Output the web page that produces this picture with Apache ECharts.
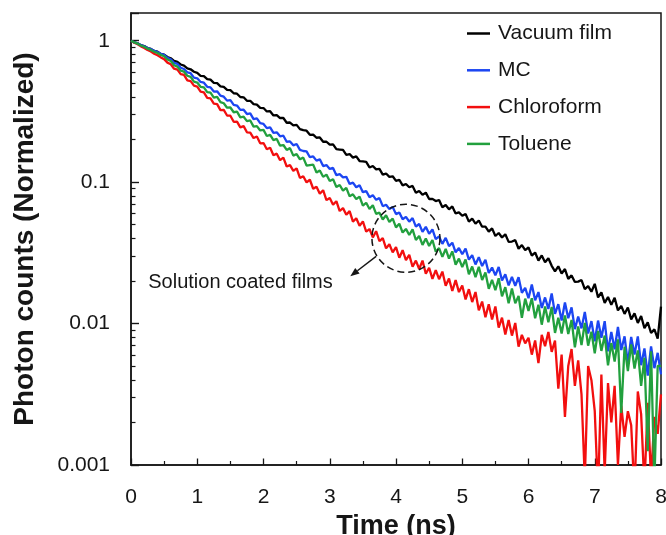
<!DOCTYPE html>
<html>
<head>
<meta charset="utf-8">
<script src="https://cdn.jsdelivr.net/npm/echarts@6/dist/echarts.min.js"></script>
<style>
  html, body { margin: 0; padding: 0; background: #fff; }
  #chart { width: 666px; height: 535px; }
</style>
</head>
<body>
<div id="chart"></div>
<script>
// time grid: one sample every 0.05 ns, 0 .. 8 ns
const step = 0.05;
const times = [];
for (let i = 0; i <= 160; i++) times.push(+(i * step).toFixed(2));

const seriesNames = ['Vacuum film', 'MC', 'Chloroform', 'Toluene'];
const seriesColors = ['#000000', '#1c46f2', '#f20f0f', '#22a03e'];

// normalized photon counts
const vacuumFilm = [1, .973, .959, .929, .916, .887, .875, .847, .836, .807, .798,
  .767, .752, .721, .708, .679, .667, .638, .628, .603, .592,
  .565, .562, .535, .530, .504, .501, .476, .472, .449, .447,
  .425, .422, .400, .398, .376, .376, .356, .353, .335, .334,
  .316, .317, .296, .298, .284, .284, .263, .264, .252, .254,
  .237, .233, .231, .216, .217, .206, .207, .193, .193, .184,
  .185, .171, .170, .169, .156, .158, .149, .152, .141, .140,
  .139, .127, .130, .123, .124, .113, .115, .109, .110, .102,
  .104, .0948, .0971, .0920, .0940, .0841, .0867, .0813, .0843, .0760,
  .0762, .0735, .0748, .0665, .0689, .0643, .0673, .0601, .0611, .0578,
  .0596, .0526, .0552, .0508, .0536, .0484, .0485, .0447, .0471, .0416,
  .0437, .0406, .0428, .0378, .0380, .0389, .0338, .0359, .0330, .0345,
  .0302, .0318, .0279, .0303, .0271, .0290, .0256, .0234, .0254, .0226,
  .0243, .0207, .0219, .0197, .0198, .0203, .0175, .0184, .0168, .0191,
  .0153, .0166, .0140, .0154, .0136, .0152, .0124, .0133, .0117, .0130,
  .0107, .0118, .0101, .0113, .00928, .0102, .00858, .00910, .00783, .0132];

const mc = [1, .975, .957, .931, .912, .887, .873, .847, .832, .809, .794,
  .757, .740, .698, .686, .644, .631, .598, .589, .548, .542,
  .511, .505, .472, .468, .437, .439, .409, .402, .377, .380,
  .352, .348, .324, .325, .303, .306, .279, .282, .261, .258,
  .241, .244, .223, .225, .211, .213, .193, .194, .182, .186,
  .169, .166, .165, .150, .152, .142, .145, .130, .132, .124,
  .126, .112, .114, .108, .109, .0971, .0993, .0920, .0951, .0849,
  .0865, .0783, .0809, .0750, .0771, .0676, .0692, .0644, .0668, .0594,
  .0611, .0547, .0568, .0525, .0557, .0485, .0506, .0445, .0483, .0431,
  .0463, .0396, .0413, .0366, .0404, .0353, .0373, .0319, .0342, .0309,
  .0339, .0283, .0305, .0262, .0295, .0255, .0283, .0228, .0249, .0219,
  .0251, .0202, .0223, .0186, .0214, .0185, .0213, .0165, .0179, .0151,
  .0189, .0146, .0167, .0129, .0153, .0127, .0163, .0117, .0137, .0105,
  .0141, .0109, .0130, .00914, .0112, .00925, .0121, .00851, .0104, .00750,
  .0105, .00793, .0104, .00637, .00873, .00658, .00946, .00650, .00813, .00521,
  .00804, .00605, .00811, .00508, .00667, .00428, .00689, .00484, .00621, .00437];

const chloroform = [1, .968, .944, .912, .889, .859, .838, .809, .789, .762, .741,
  .700, .682, .634, .625, .581, .573, .525, .518, .481, .474,
  .436, .431, .394, .391, .359, .356, .323, .324, .296, .295,
  .267, .268, .244, .249, .225, .224, .205, .210, .188, .189,
  .171, .175, .155, .159, .143, .149, .129, .132, .120, .125,
  .107, .110, .0996, .104, .0898, .0929, .0828, .0877, .0746, .0773,
  .0693, .0733, .0625, .0655, .0588, .0624, .0525, .0555, .0491, .0528,
  .0447, .0466, .0407, .0450, .0382, .0402, .0340, .0364, .0319, .0347,
  .0292, .0330, .0281, .0306, .0252, .0279, .0243, .0279, .0225, .0248,
  .0207, .0239, .0206, .0233, .0185, .0208, .0170, .0203, .0167, .0186,
  .0148, .0175, .0142, .0167, .0124, .0143, .0111, .0137, .0107, .0132,
  .00936, .0110, .00837, .0106, .00822, .0101, .00687, .00832, .00724, .00794,
  .00603, .00759, .00525, .00832, .00692, .00871, .00631, .00759, .00347, .00603,
  .00219, .00501, .00661, .00363, .00550, .00316, .00079, .00501, .00398, .00240,
  .00063, .00437, .00089, .00380, .00200, .00363, .00100, .00263, .00158, .00240,
  .00191, .00063, .00331, .00229, .00071, .00275, .00079, .00219, .00166, .00316];

const toluene = [1, .973, .953, .925, .906, .879, .861, .836, .818, .794, .776,
  .736, .718, .671, .656, .614, .604, .565, .555, .514, .506,
  .472, .468, .433, .429, .396, .400, .368, .361, .336, .337,
  .312, .315, .287, .290, .270, .273, .247, .249, .232, .234,
  .212, .216, .198, .202, .181, .183, .169, .174, .154, .158,
  .145, .149, .131, .132, .133, .117, .121, .109, .113, .102,
  .105, .0925, .0955, .0871, .0912, .0794, .0820, .0759, .0791, .0682,
  .0715, .0646, .0686, .0597, .0608, .0545, .0583, .0522, .0552, .0479,
  .0508, .0440, .0467, .0423, .0463, .0390, .0416, .0360, .0400, .0354,
  .0390, .0322, .0342, .0296, .0337, .0288, .0324, .0261, .0288, .0251,
  .0284, .0223, .0253, .0213, .0252, .0203, .0230, .0176, .0204, .0172,
  .0209, .0156, .0181, .0139, .0177, .0139, .0157, .0110, .0150, .0123,
  .0151, .0109, .0136, .00982, .0132, .0102, .0131, .00859, .0110, .00851,
  .0114, .00843, .0106, .00679, .00955, .00705, .0101, .00698, .00875, .00617,
  .00887, .00641, .00822, .00506, .00728, .00538, .00774, .00233, .00686, .00462,
  .00713, .00481, .00646, .00362, .00572, .00125, .00637, .00075, .00502, .00501];

const xTicks = [0, 1, 2, 3, 4, 5, 6, 7, 8];
const yMin = 0.001, yMax = 1.57;
const majorTicks = [0.001, 0.01, 0.1, 1];
const minorMultipliers = [2, 3, 4, 5, 6, 7, 8, 9];

// annotation (data coordinates)
const circleCenter = [4.15, 0.0401];
const arrowFrom = [3.70, 0.0299];
const arrowTo = [3.31, 0.0216];
const noteAnchor = [0.26, 0.0194];
const noteText = 'Solution coated films';

const FONT = '"Liberation Sans", Arial, sans-serif';
const ink = '#161616';

// 2..9 x 10^k positions for the short ticks
let minorTicks = [];
majorTicks.forEach((p) => {
  minorMultipliers.forEach((m) => {
    let v = +(m * p).toPrecision(2);
    if (v < yMax) minorTicks.push(v);
  });
});

const chart = echarts.init(document.getElementById('chart'));

let yAxis = [{
  type: 'log',
  logBase: 10,
  min: yMin,
  max: yMax,
  position: 'left',
  name: 'Photon counts (Normalized)',
  nameLocation: 'middle',
  nameGap: 92,
  nameTextStyle: { fontFamily: FONT, fontSize: 28, fontWeight: 'bold', color: ink },
  axisLine: { show: true, lineStyle: { color: ink, width: 1.5 } },
  axisTick: { show: true, inside: true, length: 8, lineStyle: { color: ink, width: 1.4 } },
  axisLabel: {
    margin: 21,
    fontFamily: FONT, fontSize: 21, color: ink,
    formatter: function (v) {
      let l = Math.log10(v);
      return Math.abs(l - Math.round(l)) < 1e-6 ? String(+(+v).toPrecision(1)) : '';
    }
  },
  splitLine: { show: false }
}, {
  // exponent scale of the same range, only used for the short ticks
  type: 'value',
  min: Math.log10(yMin),
  max: Math.log10(yMax),
  position: 'left',
  axisLine: { show: false, onZero: false },
  axisTick: {
    show: true, inside: true, length: 4.5,
    customValues: minorTicks.map((v) => Math.log10(v)),
    lineStyle: { color: ink, width: 1.2 }
  },
  axisLabel: { show: false },
  splitLine: { show: false }
}];

const dataSets = [vacuumFilm, mc, chloroform, toluene];
// drawing order: black, red, blue, green on top
const drawOrder = [0, 2, 1, 3];
let series = [];
drawOrder.forEach((idx) => {
  series.push({
    name: seriesNames[idx],
    type: 'line',
    xAxisIndex: 0,
    yAxisIndex: 0,
    showSymbol: false,
    symbol: 'none',
    clip: true,
    color: seriesColors[idx],
    lineStyle: { width: 2.3, color: seriesColors[idx] },
    data: times.map((t, i) => [t, dataSets[idx][i]])
  });
});

let option = {
  animation: false,
  backgroundColor: '#ffffff',
  grid: {
    left: 131, right: 5, top: 13, bottom: 70,
    outerBoundsMode: 'none',
    containLabel: false,
    show: true,
    borderColor: ink,
    borderWidth: 1.5,
    backgroundColor: 'transparent'
  },
  legend: {
    data: seriesNames,
    orient: 'vertical',
    left: 467,
    top: 23,
    padding: 0,
    itemGap: 15.8,
    itemWidth: 23,
    itemHeight: 2.5,
    icon: 'rect',
    textStyle: { fontFamily: FONT, fontSize: 21, color: ink, padding: [0, 0, 0, 3] }
  },
  xAxis: [{
    type: 'value',
    min: xTicks[0],
    max: xTicks[xTicks.length - 1],
    interval: 1,
    name: 'Time (ns)',
    nameLocation: 'middle',
    nameGap: 42,
    nameTextStyle: { fontFamily: FONT, fontSize: 27, fontWeight: 'bold', color: ink },
    axisLine: { show: true, onZero: false, lineStyle: { color: ink, width: 1.5 } },
    axisTick: { show: true, inside: true, length: 6.5, lineStyle: { color: ink, width: 1.3 } },
    minorTick: { show: true, splitNumber: 2, length: 4, lineStyle: { color: ink, width: 1.2 } },
    axisLabel: { margin: 22, fontFamily: FONT, fontSize: 21, color: ink },
    splitLine: { show: false },
    minorSplitLine: { show: false }
  }],
  yAxis: yAxis,
  series: series
};

chart.setOption(option);

// annotation: dashed circle, arrow and label placed through the axes
const px = (d) => chart.convertToPixel({ xAxisIndex: 0, yAxisIndex: 0 }, d);
const c = px(circleCenter);
const a0 = px(arrowFrom);
const a1 = px(arrowTo);
const tp = px(noteAnchor);
const ang = Math.atan2(a1[1] - a0[1], a1[0] - a0[0]);
const headLen = 9, headHalf = 3.6;
const bx = a1[0] - headLen * Math.cos(ang), by = a1[1] - headLen * Math.sin(ang);
const nx = -Math.sin(ang) * headHalf, ny = Math.cos(ang) * headHalf;

chart.setOption({
  graphic: [
    {
      type: 'circle',
      shape: { cx: c[0], cy: c[1], r: 34 },
      style: { fill: 'none', stroke: ink, lineWidth: 1.5, lineDash: [7, 4] },
      z: 100
    },
    {
      type: 'line',
      shape: { x1: a0[0], y1: a0[1], x2: bx, y2: by },
      style: { stroke: ink, lineWidth: 1.5 },
      z: 100
    },
    {
      type: 'polygon',
      shape: { points: [[a1[0], a1[1]], [bx + nx, by + ny], [bx - nx, by - ny]] },
      style: { fill: ink },
      z: 100
    },
    {
      type: 'text',
      x: tp[0],
      y: tp[1],
      style: {
        text: noteText,
        fontFamily: FONT,
        fontSize: 20,
        fill: ink,
        verticalAlign: 'middle',
        align: 'left'
      },
      z: 100
    }
  ]
});

window.onresize = () => {
  chart.resize();
};
</script>
</body>
</html>
